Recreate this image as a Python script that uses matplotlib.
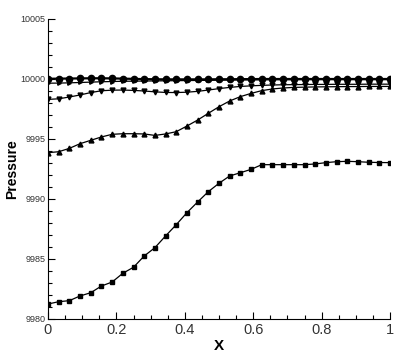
import numpy as np
import matplotlib
matplotlib.use("Agg")
import matplotlib.pyplot as plt
from matplotlib.ticker import MultipleLocator, FixedLocator

plt.rcParams['font.family'] = ['Liberation Sans', 'DejaVu Sans']

x = np.arange(33) / 32.0

p_circle = [10000.02, 10000.03, 10000.04, 10000.05, 10000.06, 10000.06, 10000.05, 10000.03,
            10000.01, 9999.99, 9999.98, 9999.97, 9999.97, 9999.97, 9999.97, 9999.97,
            9999.98, 9999.98, 9999.99, 9999.99, 10000.0, 10000.0, 10000.0, 10000.0,
            10000.0, 10000.0, 10000.0, 10000.0, 10000.0, 10000.0, 10000.0, 10000.0, 10000.0]

p_mid = [9999.65, 9999.66, 9999.68, 9999.71, 9999.74, 9999.77, 9999.79, 9999.81,
         9999.82, 9999.83, 9999.84, 9999.85, 9999.86, 9999.87, 9999.88, 9999.89,
         9999.9, 9999.91, 9999.92, 9999.93, 9999.93, 9999.94, 9999.94, 9999.94,
         9999.95, 9999.95, 9999.95, 9999.95, 9999.95, 9999.95, 9999.95, 9999.95, 9999.95]

p_down = [9998.3, 9998.35, 9998.5, 9998.67, 9998.87, 9999.02, 9999.07, 9999.08,
          9999.05, 9999.0, 9998.93, 9998.88, 9998.87, 9998.9, 9998.97, 9999.08,
          9999.2, 9999.3, 9999.38, 9999.43, 9999.47, 9999.5, 9999.52, 9999.53,
          9999.54, 9999.55, 9999.55, 9999.56, 9999.56, 9999.56, 9999.57, 9999.57, 9999.57]

p_up = [9993.86, 9993.94, 9994.22, 9994.61, 9994.89, 9995.17, 9995.39, 9995.44,
        9995.44, 9995.42, 9995.3, 9995.42, 9995.61, 9996.08, 9996.58, 9997.14,
        9997.69, 9998.17, 9998.53, 9998.8, 9999.03, 9999.17, 9999.25, 9999.3,
        9999.32, 9999.34, 9999.35, 9999.36, 9999.37, 9999.37, 9999.38, 9999.38, 9999.38]

p_square = [9981.25, 9981.44, 9981.53, 9981.92, 9982.19, 9982.75, 9983.08, 9983.81,
            9984.31, 9985.25, 9985.94, 9986.92, 9987.86, 9988.86, 9989.75, 9990.61,
            9991.31, 9991.92, 9992.19, 9992.47, 9992.86, 9992.86, 9992.86, 9992.86,
            9992.86, 9992.92, 9993.03, 9993.11, 9993.14, 9993.11, 9993.06, 9993.04, 9993.03]

fig = plt.figure(figsize=(3.99, 3.55), dpi=100)
ax = fig.add_axes([48/399, 1-319/355, (390-48)/399, (319-19)/355])

kw = dict(color='black', lw=0.9)
ax.plot(x, p_square, marker='s', ms=3.2, **kw)
ax.plot(x, p_up, marker='^', ms=3.5, **kw)
ax.plot(x, p_down, marker='v', ms=3.5, **kw)
ax.plot(x, p_mid, marker='>', ms=2.5, **kw)
ax.plot(x, p_circle, marker='o', ms=4.5, color='black', lw=1.6)

ax.set_xlim(0, 1)
ax.set_ylim(9980, 10005)
ax.spines['top'].set_visible(False)
ax.spines['right'].set_visible(False)
ax.xaxis.set_major_locator(FixedLocator([0, 0.2, 0.4, 0.6, 0.8, 1.0]))
ax.xaxis.set_minor_locator(MultipleLocator(0.05))
ax.yaxis.set_major_locator(MultipleLocator(5))
ax.yaxis.set_minor_locator(MultipleLocator(1))
ax.set_xticklabels(['0', '0.2', '0.4', '0.6', '0.8', '1'])
ax.tick_params(which='both', direction='in', width=0.8)
ax.tick_params(which='major', length=5)
ax.tick_params(which='minor', length=3)
ax.tick_params(axis='x', labelsize=10.5, pad=3, labelcolor='#333333')
ax.tick_params(axis='y', labelsize=6.5, pad=2, labelcolor='#333333')
ax.yaxis.get_major_formatter().set_useOffset(False)
ax.set_xlabel('X', fontsize=11, fontweight='bold', labelpad=1)
ax.set_ylabel('Pressure', fontsize=10, fontweight='bold', labelpad=1)

fig.savefig('out.png', dpi=100)
